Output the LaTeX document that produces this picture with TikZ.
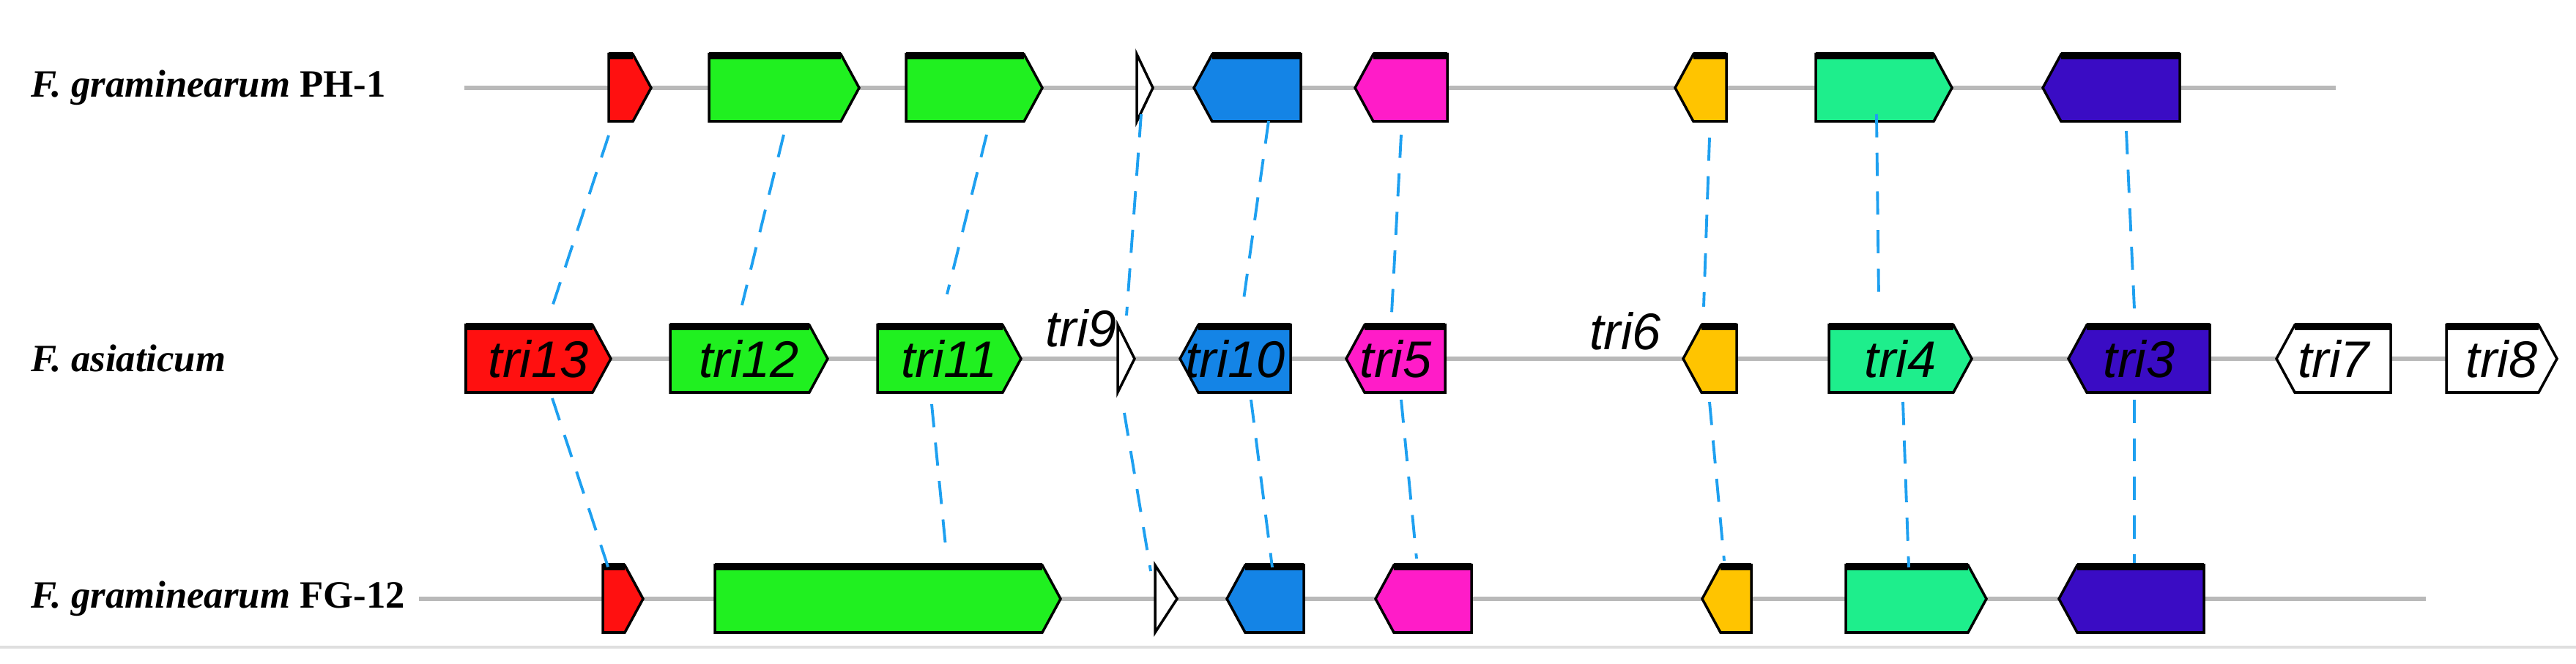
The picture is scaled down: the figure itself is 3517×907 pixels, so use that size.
\documentclass[tikz,border=0pt]{standalone}
\usepackage{fontspec}
\setmainfont{Liberation Serif}
\newfontfamily\genefont{Liberation Sans}
\definecolor{tred}{HTML}{FF1010}
\definecolor{tgreen}{HTML}{20F020}
\definecolor{tblue}{HTML}{1484E6}
\definecolor{tpink}{HTML}{FF1CC8}
\definecolor{tyellow}{HTML}{FFC400}
\definecolor{tteal}{HTML}{1EEE8C}
\definecolor{tindigo}{HTML}{3A0CC4}
\definecolor{linkblue}{HTML}{1EA0F0}
\tikzset{
  backbone/.style={line width=1.7pt, gray!55},
  genebody/.style={draw=black, line width=1pt, line join=miter},
  topband/.style={line width=3pt, black},
  link/.style={draw=linkblue, line width=1.1pt, dash pattern=on 9pt off 6pt},
  genelabel/.style={font=\genefont\itshape\fontsize{20}{20}\selectfont},
  species/.style={font=\bfseries\fontsize{15}{15}\selectfont, anchor=west}
}
% gene pointing right: x1, x2, y, colour, label
\newcommand{\generright}[5]{%
  \path[genebody, fill=#4] (#1,#3-46) -- (#2-25,#3-46) -- (#2,#3) -- (#2-25,#3+46) -- (#1,#3+46) -- cycle;
  \draw[topband] (#1,#3-44) -- (#2-25,#3-44);
  \node[genelabel] at ({(#1+#2)/2},#3) {#5};}
% gene pointing left: x1, x2, y, colour, label
\newcommand{\geneleft}[5]{%
  \path[genebody, fill=#4] (#2,#3-46) -- (#1+25,#3-46) -- (#1,#3) -- (#1+25,#3+46) -- (#2,#3+46) -- cycle;
  \draw[topband] (#1+25,#3-44) -- (#2,#3-44);
  \node[genelabel] at ({(#1+#2)/2},#3) {#5};}
\begin{document}
\begin{tikzpicture}[x=0.01cm, y=-0.01cm]
  \useasboundingbox (0,0) rectangle (3517,907);
  \draw[gray!25, line width=1pt] (0,884) -- (3517,884);

  % Species
  \node[species] (ph1) at (30,120) {\textit{F. graminearum} PH-1};
  \node[species] (asi) at (30,490) {\textit{F. asiaticum}};
  \node[species] (fg12) at (30,818) {\textit{F. graminearum} FG-12};

  % Backbones
  \draw[backbone] (634,120) -- (3189,120);
  \draw[backbone] (636,490) -- (3491,490);
  \draw[backbone] (572,818) -- (3312,818);

  % F. graminearum PH-1
  \generright{831}{889}{120}{tred}{}
  \generright{968}{1173}{120}{tgreen}{}
  \generright{1237}{1423}{120}{tgreen}{}
  \draw[genebody, fill=white] (1552,74) -- (1574,120) -- (1552,166) -- cycle;
  \geneleft{1630}{1776}{120}{tblue}{}
  \geneleft{1850}{1976}{120}{tpink}{}
  \geneleft{2287}{2357}{120}{tyellow}{}
  \generright{2479}{2665}{120}{tteal}{}
  \geneleft{2789}{2976}{120}{tindigo}{}

  % F. asiaticum
  \generright{636}{834}{490}{tred}{tri13}
  \generright{915}{1130}{490}{tgreen}{tri12}
  \generright{1198}{1394}{490}{tgreen}{tri11}
  \draw[genebody, fill=white] (1526,444) -- (1549,490) -- (1526,536) -- cycle;
  \node[genelabel] (tri9) at (1476,448) {tri9};
  \geneleft{1611}{1762}{490}{tblue}{tri10}
  \geneleft{1838}{1973}{490}{tpink}{tri5}
  \node[genelabel] (tri6) at (2219,452) {tri6};
  \geneleft{2298}{2371}{490}{tyellow}{}
  \generright{2497}{2692}{490}{tteal}{tri4}
  \geneleft{2824}{3017}{490}{tindigo}{tri3}
  \geneleft{3108}{3264}{490}{white}{tri7}
  \generright{3340}{3491}{490}{white}{tri8}

  % F. graminearum FG-12
  \generright{823}{878}{818}{tred}{}
  \generright{976}{1448}{818}{tgreen}{}
  \draw[genebody, fill=white] (1577,772) -- (1607,818) -- (1577,864) -- cycle;
  \geneleft{1675}{1780}{818}{tblue}{}
  \geneleft{1878}{2009}{818}{tpink}{}
  \geneleft{2324}{2391}{818}{tyellow}{}
  \generright{2520}{2712}{818}{tteal}{}
  \geneleft{2811}{3009}{818}{tindigo}{}

  % Links PH-1 to F. asiaticum
  \draw[link] (831,185) -- (752,425);
  \draw[link] (1070,184) -- (1013,417);
  \draw[link] (1347,184) -- (1293,402);
  \draw[link] (1558,156) -- (1538,431);
  \draw[link] (1732,165) -- (1697,416);
  \draw[link] (1913,184) -- (1900,428);
  \draw[link] (2334,188) -- (2326,419);
  \draw[link] (2562,156) -- (2565,407);
  \draw[link] (2903,179) -- (2914,422);

  % Links F. asiaticum to FG-12
  \draw[link] (754,544) -- (831,777);
  \draw[link] (1272,552) -- (1291,746);
  \draw[link] (1535,564) -- (1571,780);
  \draw[link] (1708,546) -- (1737,775);
  \draw[link] (1913,546) -- (1934,763);
  \draw[link] (2334,549) -- (2354,766);
  \draw[link] (2598,549) -- (2606,775);
  \draw[link] (2914,546) -- (2914,769);
\end{tikzpicture}
\end{document}
